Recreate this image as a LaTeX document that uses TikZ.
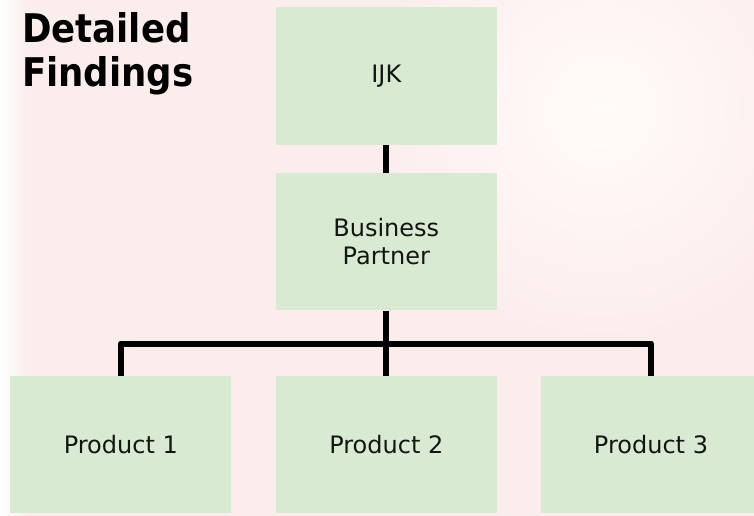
\documentclass[tikz,border=0pt]{standalone}
\usepackage{fontspec}
\setmainfont{DejaVu Sans}
\newfontfamily\titlefont{DejaVu Sans Condensed}
\definecolor{bgpink}{RGB}{252,237,237}
\definecolor{bglight}{RGB}{255,251,249}
\definecolor{boxgreen}{RGB}{217,234,211}
\definecolor{inktext}{RGB}{20,20,20}
\begin{document}
\begin{tikzpicture}[x=1pt,y=-1pt,
  orgbox/.style={fill=boxgreen, minimum width=220.7pt, minimum height=137.4pt,
    inner sep=0pt, align=center, text=inktext,
    font=\fontsize{24}{28}\selectfont},
  link/.style={line width=6pt, black, line join=round}]
  \useasboundingbox (0,0) rectangle (754,516);
  % backdrop: pale pink with a soft light patch and a whiter left edge
  \begin{scope}
    \clip (0,0) rectangle (754,516);
    \fill[bgpink] (0,0) rectangle (754,516);
    \shade[inner color=bglight, outer color=bgpink] (600,110) circle (230);
    \shade[left color=white, right color=bgpink] (0,0) rectangle (26,516);
  \end{scope}

  % heading (base anchor sits on the last line)
  \node[anchor=base west, inner sep=0pt, align=left,
        font=\titlefont\bfseries\fontsize{39.5}{44}\selectfont]
        (title) at (22,87) {Detailed\\Findings};

  % chart boxes
  \node[orgbox] (ijk) at (386.3,76.0) {IJK};
  \node[orgbox] (bp)  at (386.3,241.7) {Business\\Partner};
  \node[orgbox] (p1)  at (120.8,444.7) {Product 1};
  \node[orgbox] (p2)  at (386.3,444.7) {Product 2};
  \node[orgbox] (p3)  at (651.0,444.7) {Product 3};

  % connectors
  \coordinate (bus) at (386.3,343.5);
  \draw[link] (ijk.south) -- (bp.north);
  \draw[link] (bp.south) -- (p2.north);
  \draw[link] (p1.north) -- (p1.north |- bus) -- (p3.north |- bus) -- (p3.north);
\end{tikzpicture}
\end{document}
